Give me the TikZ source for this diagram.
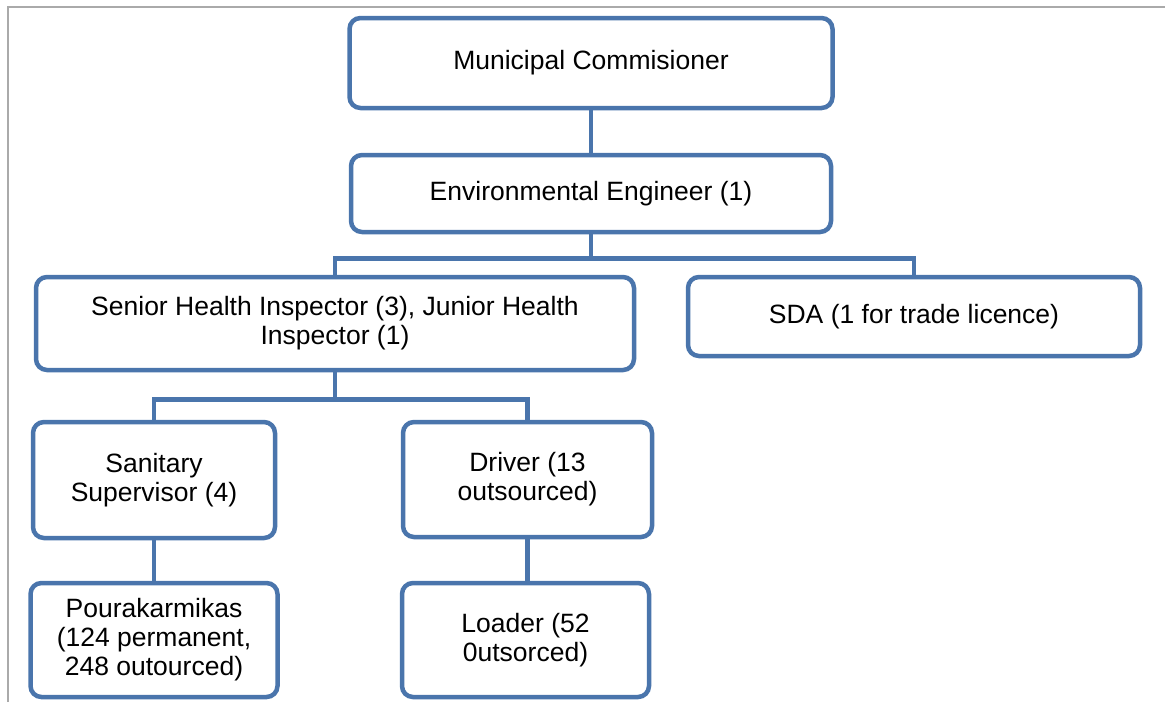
\documentclass[tikz,border=0pt]{standalone}
\usepackage{fontspec}
\setmainfont{Liberation Sans}
\definecolor{boxblue}{RGB}{74,117,172}
\definecolor{framegray}{RGB}{170,170,170}

\begin{document}
\begin{tikzpicture}[x=1pt,y=-1pt,
  post/.style={draw=boxblue,line width=4.5pt,rounded corners=11pt,fill=white,
    align=center,inner sep=0pt,font=\fontsize{26.5}{29}\selectfont},
  link/.style={draw=boxblue,line width=4.5pt}]
\useasboundingbox (0,0) rectangle (1165,702);
\draw [framegray,line width=1.5pt] (8,702) -- (8,7) -- (1165,7);
% boxes
\node [post,minimum width=483pt,minimum height=90pt] (mc) at (591,63) {Municipal Commisioner};
\node [post,minimum width=480pt,minimum height=77pt] (ee) at (591,193.5) {Environmental Engineer (1)};
\node [post,minimum width=598pt,minimum height=93pt] (sh) at (335,323.5) {Senior Health Inspector (3), Junior Health\\Inspector (1)};
\node [post,minimum width=452pt,minimum height=79pt] (sda) at (914,316.5) {SDA (1 for trade licence)};
\node [post,minimum width=242pt,minimum height=116pt] (ss) at (154,480) {Sanitary\\Supervisor (4)};
\node [post,minimum width=249pt,minimum height=115pt] (dr) at (527.5,479.5) {Driver (13\\outsourced)};
\node [post,minimum width=247pt,minimum height=114pt] (pk) at (154,640) {Pourakarmikas\\(124 permanent,\\248 outourced)};
\node [post,minimum width=247pt,minimum height=114pt] (ld) at (525.5,640) {Loader (52\\0utsorced)};
% links
\draw [link] (mc.south) -- (ee.north);
\draw [link] (ee.south) -- ++(0,24) -| (sh.north);
\draw [link] (ee.south) -- ++(0,24) -| (sda.north);
\draw [link] (sh.south) -- ++(0,27) -| (ss.north);
\draw [link] (sh.south) -- ++(0,27) -| (dr.north);
\draw [link] (ss.south) -- (pk.north);
\draw [link] (dr.south) -- (dr.south |- ld.north);
\end{tikzpicture}
\end{document}
